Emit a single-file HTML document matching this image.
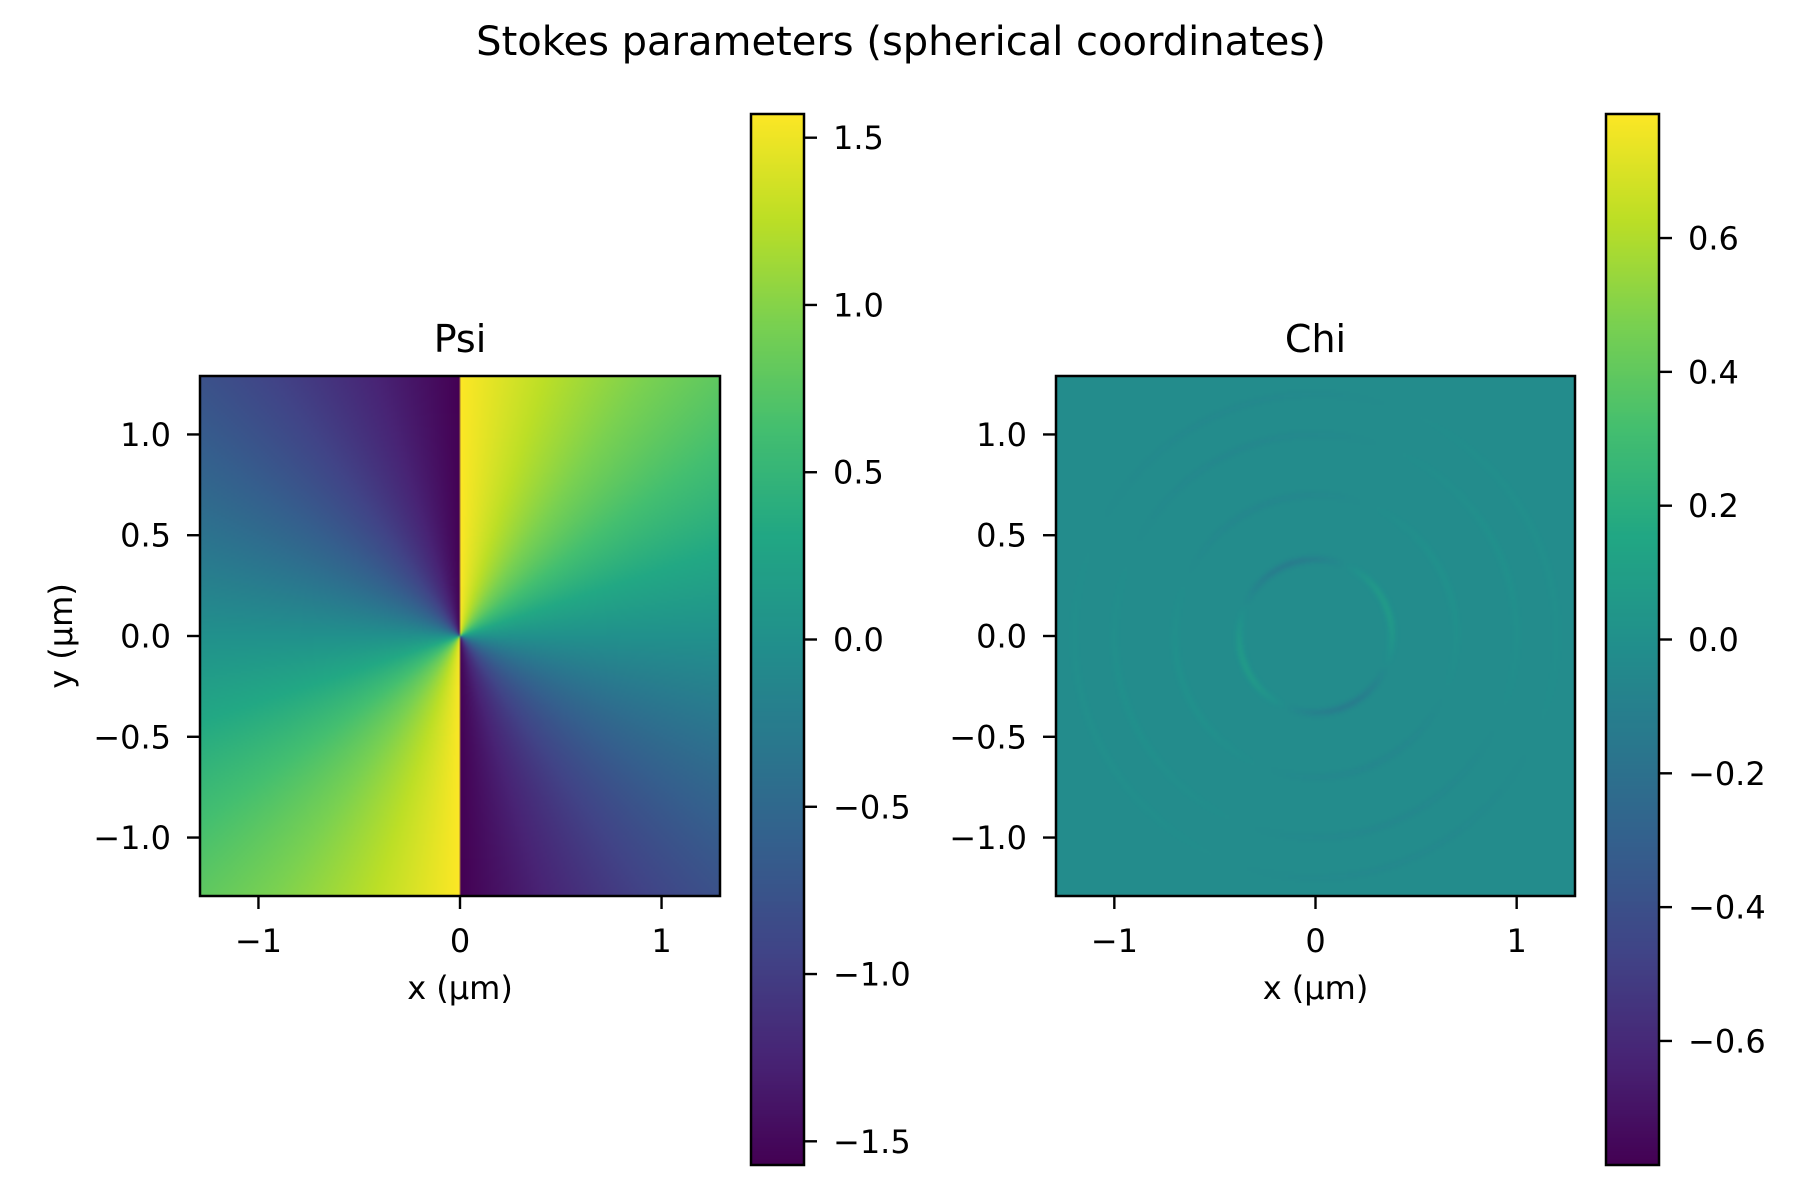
<!DOCTYPE html>
<html><head><meta charset="utf-8"><style>
html,body{margin:0;padding:0;background:#fff}
#wrap{position:relative;width:1800px;height:1200px;font-family:"DejaVu Sans","Liberation Sans",sans-serif}
canvas{position:absolute;image-rendering:auto}
svg{position:absolute;left:0;top:0}
</style></head><body>
<div id="wrap">
<canvas id="psi" style="left:200px;top:376px;width:520px;height:520px" width="260" height="260"></canvas>
<canvas id="chi" style="left:1056px;top:376px;width:519px;height:520px" width="260" height="260"></canvas>
<canvas id="cb1" style="left:751px;top:114px;width:53px;height:1051px" width="1" height="256"></canvas>
<canvas id="cb2" style="left:1606px;top:114px;width:53px;height:1051px" width="1" height="256"></canvas>
<svg id="svg" width="1800" height="1200" xmlns="http://www.w3.org/2000/svg"></svg>
</div>
<script>
const xTicks=[-1,0,1];
const yTicks=[-1.0,-0.5,0.0,0.5,1.0];
const psiCbTicks=[-1.5,-1.0,-0.5,0.0,0.5,1.0,1.5];
const chiCbTicks=[-0.6,-0.4,-0.2,0.0,0.2,0.4,0.6];
const extent=[-1.29,1.29];
const psiRange=[-Math.PI/2,Math.PI/2];
const chiRange=[-Math.PI/4,Math.PI/4];
const chiBase=[-0.03];
const chiRingRadii=[0.38,0.7,1.0,1.2];
const chiRingAmp=[0.09,0.03,0.025,0.02];

const VS=[[68,1,84],[72,36,117],[65,68,135],[53,95,141],[42,120,142],[33,145,140],[34,168,132],[68,191,112],[122,209,81],[189,223,38],[253,231,37]];
function viridis(t){t=Math.max(0,Math.min(1,t));const f=t*10,i=Math.min(9,Math.floor(f)),r=f-i;const a=VS[i],b=VS[i+1];return [a[0]+(b[0]-a[0])*r,a[1]+(b[1]-a[1])*r,a[2]+(b[2]-a[2])*r];}
function fillGrid(id,fn,range){const c=document.getElementById(id),ctx=c.getContext('2d'),W=c.width,H=c.height,img=ctx.createImageData(W,H);
for(let j=0;j<H;j++)for(let i=0;i<W;i++){const x=extent[0]+(i+0.5)/W*(extent[1]-extent[0]),y=extent[1]-(j+0.5)/H*(extent[1]-extent[0]);const v=fn(x,y);const col=viridis((v-range[0])/(range[1]-range[0]));const k=(j*W+i)*4;img.data[k]=col[0];img.data[k+1]=col[1];img.data[k+2]=col[2];img.data[k+3]=255;}
ctx.putImageData(img,0,0);}
fillGrid('psi',(x,y)=>Math.atan(y/(Math.abs(x)<1e-9?1e-9:x)),psiRange);
fillGrid('chi',(x,y)=>{const r=Math.hypot(x,y),a=Math.atan2(y,x);let v=chiBase[0];for(let k=0;k<chiRingRadii.length;k++){const d=r-chiRingRadii[k];v+=chiRingAmp[k]*Math.exp(-d*d/0.0004)*Math.sin(2*a+0.8);}return v;},chiRange);
function fillCb(id){const c=document.getElementById(id),ctx=c.getContext('2d');for(let j=0;j<256;j++){const col=viridis(1-(j+0.5)/256);ctx.fillStyle=`rgb(${col[0]|0},${col[1]|0},${col[2]|0})`;ctx.fillRect(0,j,1,1);}}
fillCb('cb1');fillCb('cb2');

const svg=document.getElementById('svg'),NS='http://www.w3.org/2000/svg';
function el(tag,attrs,txt){const e=document.createElementNS(NS,tag);for(const k in attrs)e.setAttribute(k,attrs[k]);if(txt!==undefined)e.textContent=txt;svg.appendChild(e);return e;}
function fmt(v,d){const s=Math.abs(v).toFixed(d);return (v<-1e-9?'\u2212':'')+s;}
const FS=32;
function axes(left,top,W,H,title,showY,prefix){
  const sx=v=>left+(v-extent[0])/(extent[1]-extent[0])*W;
  const sy=v=>top+(extent[1]-v)/(extent[1]-extent[0])*H;
  const f=el('rect',{x:left,y:top,width:W,height:H,fill:'none',stroke:'#000','stroke-width':2.5});
  
  
  xTicks.forEach(v=>{const x=sx(v);
    const t=el('line',{x1:x,x2:x,y1:top+H,y2:top+H+13,stroke:'#000','stroke-width':2.4});
    
    
    const l=el('text',{x:x,y:top+H+56,'font-size':FS,'text-anchor':'middle'},fmt(v,0));
    
    });
  yTicks.forEach(v=>{const y=sy(v);
    const t=el('line',{x1:left-13,x2:left,y1:y,y2:y,stroke:'#000','stroke-width':2.4});
    
    
    const l=el('text',{x:left-29,y:y+11.5,'font-size':FS,'text-anchor':'end'},fmt(v,1));
    
    });
  const tt=el('text',{x:left+W/2,y:top-24,'font-size':38,'text-anchor':'middle'},title);
  
  
  const xl=el('text',{x:left+W/2,y:top+H+103,'font-size':FS,'text-anchor':'middle'},'x (µm)');
  
  
  if(showY){const yl=el('text',{x:0,y:0,'font-size':FS,'text-anchor':'middle',transform:`translate(72,${top+H/2}) rotate(-90)`},'y (µm)');
    
    }
}
function colorbar(left,top,W,H,range,ticks,prefix){
  const f=el('rect',{x:left,y:top,width:W,height:H,fill:'none',stroke:'#000','stroke-width':2.5});
  
  
  ticks.forEach(v=>{const y=top+(range[1]-v)/(range[1]-range[0])*H;
    const t=el('line',{x1:left+W,x2:left+W+13,y1:y,y2:y,stroke:'#000','stroke-width':2.4});
    
    
    const l=el('text',{x:left+W+29,y:y+11.5,'font-size':FS},fmt(v,1));
    
    });
}
axes(200,376,520,520,'Psi',true,'psi');
axes(1056,376,519,520,'Chi',false,'chi');
colorbar(751,114,53,1051,psiRange,psiCbTicks,'psi');
colorbar(1606,114,53,1051,chiRange,chiCbTicks,'chi');
const st=el('text',{x:901,y:55,'font-size':40,'text-anchor':'middle'},'Stokes parameters (spherical coordinates)');


</script>
</body></html>
